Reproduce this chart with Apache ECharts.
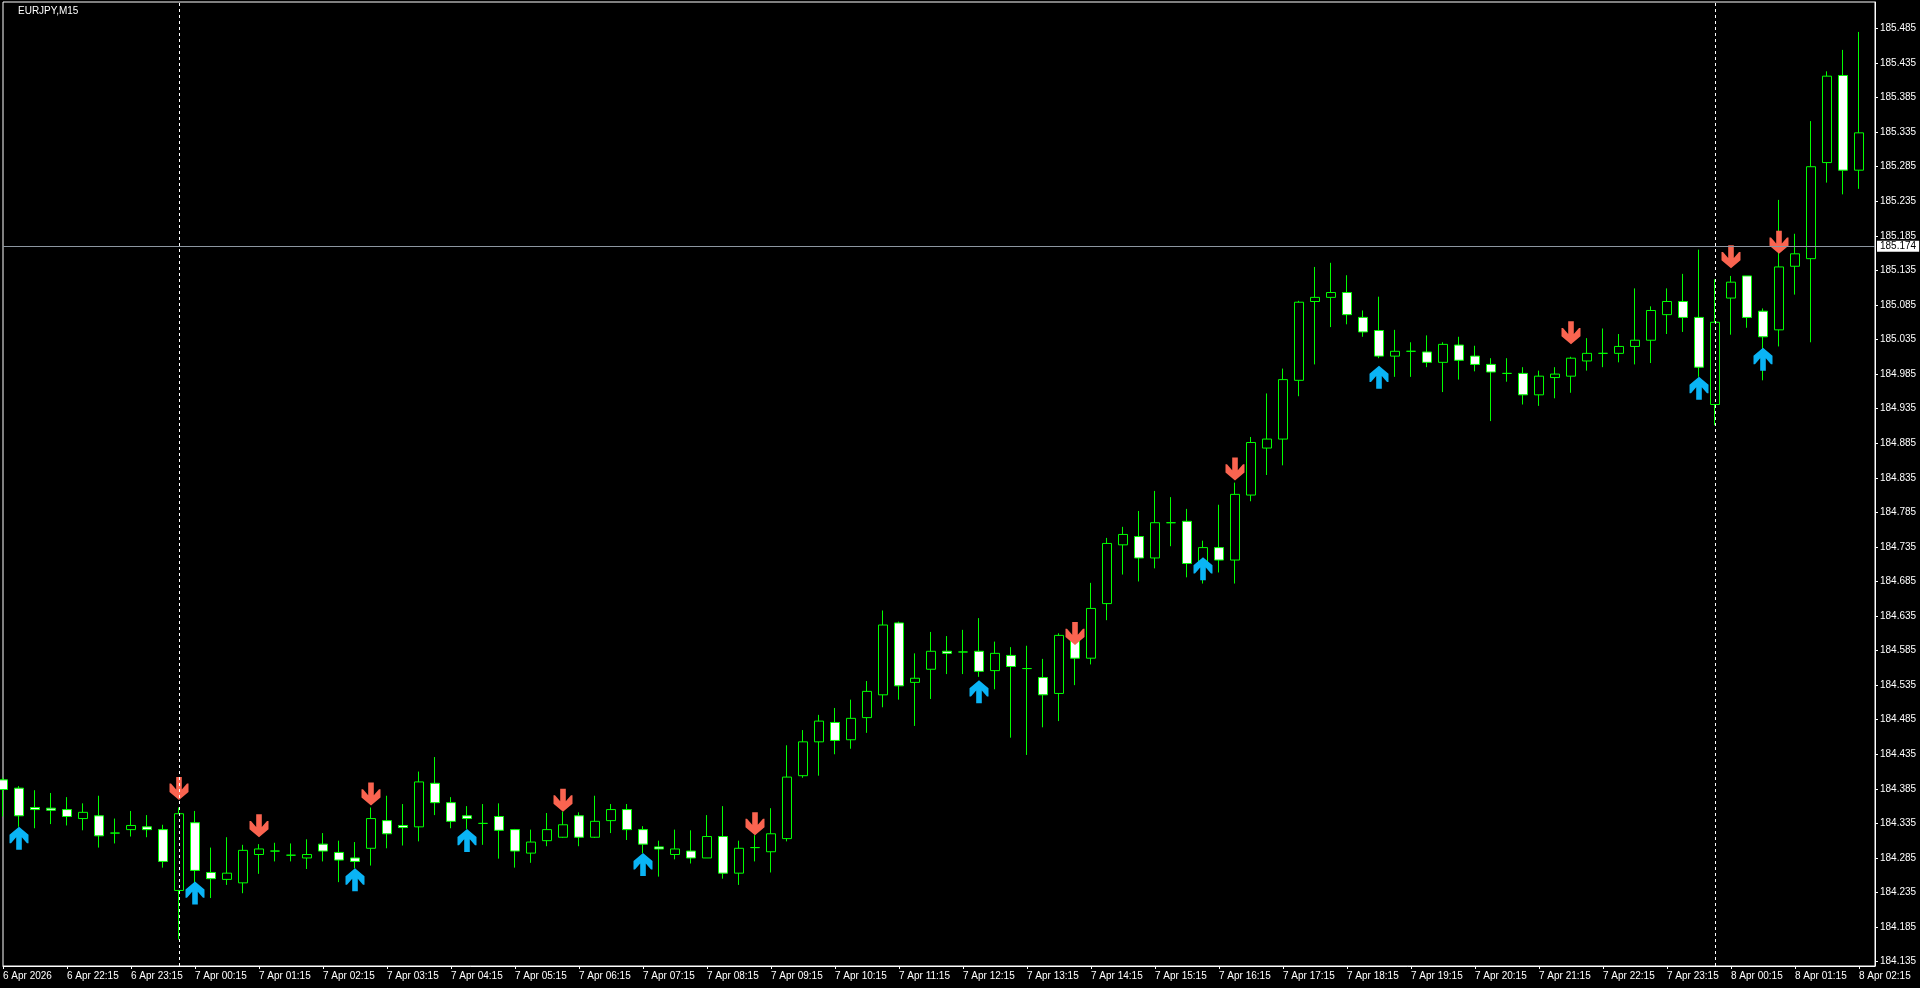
<!DOCTYPE html>
<html><head><meta charset="utf-8">
<script src="https://cdn.jsdelivr.net/npm/echarts@6/dist/echarts.min.js"></script>
<style>html,body{margin:0;padding:0;background:#000;overflow:hidden}#c{width:1920px;height:988px}</style>
</head><body><div id="c"></div>
<script>
const symbolName = 'EURJPY,M15';
const firstBarLabel = '6 Apr 2026';
const firstBarTimeUTC = Date.UTC(2026, 3, 6, 21, 15);
const barMinutes = 15;
const months = ['Jan','Feb','Mar','Apr','May','Jun','Jul','Aug','Sep','Oct','Nov','Dec'];

const barOpen = [
184.398,184.386,184.358,184.357,184.355,184.342,184.346,184.321,184.326,184.330,
184.326,184.238,184.336,184.264,184.254,184.249,184.290,184.295,184.289,184.285,
184.305,184.293,184.285,184.299,184.339,184.332,184.330,184.393,184.365,184.346,
184.335,184.345,184.326,184.292,184.310,184.315,184.346,184.315,184.339,184.355,
184.326,184.301,184.290,184.295,184.285,184.316,184.263,184.300,184.294,184.313,
184.404,184.453,184.481,184.456,184.488,184.521,184.625,184.539,184.558,184.584,
184.583,184.584,184.556,184.578,184.559,184.546,184.523,184.601,184.574,184.653,
184.738,184.750,184.719,184.770,184.772,184.711,184.734,184.716,184.810,184.878,
184.891,184.976,185.090,185.096,185.103,185.067,185.048,185.011,185.018,185.017,
185.002,185.027,185.011,184.999,184.986,184.986,184.955,184.980,184.982,185.004,
185.015,185.015,185.025,185.034,185.071,185.090,185.067,184.941,185.095,185.127,
185.076,185.049,185.141,185.152,185.291,185.417,185.280];
const barHigh = [
184.401,184.389,184.383,184.379,184.373,184.364,184.375,184.342,184.353,184.347,
184.333,184.358,184.353,184.300,184.315,184.304,184.305,184.307,184.306,184.312,
184.321,184.310,184.308,184.358,184.375,184.363,184.410,184.431,184.373,184.360,
184.363,184.364,184.327,184.326,184.350,184.352,184.351,184.375,184.363,184.363,
184.331,184.310,184.326,184.325,184.347,184.360,184.310,184.318,184.357,184.448,
184.470,184.492,184.502,184.514,184.541,184.643,184.627,184.581,184.612,184.606,
184.615,184.632,184.598,184.590,184.592,184.573,184.610,184.608,184.683,184.748,
184.764,184.787,184.816,184.807,184.790,184.744,184.796,184.828,184.894,184.957,
184.993,185.091,185.140,185.146,185.128,185.077,185.097,185.049,185.031,185.041,
185.031,185.039,185.026,185.008,185.008,184.995,184.990,184.995,185.010,185.037,
185.051,185.043,185.109,185.083,185.109,185.130,185.165,185.122,185.127,185.127,
185.080,185.237,185.188,185.351,185.423,185.454,185.480];
const barLow = [
184.345,184.330,184.328,184.334,184.332,184.325,184.300,184.306,184.316,184.315,
184.271,184.167,184.248,184.227,184.246,184.234,184.262,184.280,184.280,184.269,
184.280,184.250,184.270,184.274,184.299,184.303,184.309,184.347,184.328,184.327,
184.304,184.284,184.271,184.278,184.302,184.314,184.302,184.314,184.321,184.311,
184.292,184.258,184.283,184.277,184.285,184.255,184.246,184.280,184.264,184.309,
184.401,184.404,184.435,184.443,184.466,184.503,184.514,184.476,184.515,184.551,
184.551,184.547,184.529,184.459,184.434,184.474,184.483,184.535,184.565,184.629,
184.695,184.685,184.704,184.736,184.691,184.682,184.698,184.682,184.801,184.839,
184.853,184.953,184.999,185.053,185.057,185.039,185.008,184.981,184.981,184.995,
184.959,184.977,184.989,184.917,184.974,184.941,184.939,184.950,184.958,184.990,
184.995,185.002,184.999,185.001,185.043,185.046,184.981,184.911,185.042,185.052,
184.976,185.025,185.100,185.031,185.262,185.245,185.253];
const barClose = [
184.384,184.346,184.355,184.354,184.345,184.351,184.317,184.321,184.332,184.326,
184.280,184.349,184.267,184.255,184.263,184.296,184.298,184.295,184.289,184.290,
184.295,184.282,184.280,184.342,184.320,184.329,184.395,184.365,184.338,184.342,
184.335,184.325,184.295,184.308,184.326,184.333,184.315,184.338,184.355,184.326,
184.305,184.298,184.298,184.285,184.316,184.263,184.299,184.300,184.320,184.402,
184.453,184.483,184.455,184.487,184.526,184.622,184.534,184.545,184.584,184.581,
184.583,184.555,184.581,184.562,184.559,184.521,184.607,184.574,184.646,184.740,
184.753,184.719,184.770,184.770,184.711,184.734,184.716,184.811,184.886,184.891,
184.977,185.089,185.096,185.103,185.071,185.046,185.011,185.018,185.018,185.002,
185.028,185.005,184.999,184.988,184.986,184.955,184.982,184.985,185.008,185.015,
185.015,185.025,185.034,185.077,185.090,185.067,184.995,185.060,185.118,185.067,
185.039,185.140,185.159,185.285,185.416,185.280,185.334];

const upArrowBars = [1, 12, 22, 29, 40, 61, 75, 86, 106, 110];
const upArrowPrices = [184.330, 184.251, 184.270, 184.327, 184.292, 184.542, 184.720, 184.997, 184.981, 185.023];
const downArrowBars = [11, 16, 23, 35, 47, 67, 77, 98, 108, 111];
const downArrowPrices = [184.369, 184.315, 184.361, 184.352, 184.318, 184.593, 184.831, 185.028, 185.138, 185.159];

const priceTicks = [184.135,184.185,184.235,184.285,184.335,184.385,184.435,184.485,184.535,184.585,
184.635,184.685,184.735,184.785,184.835,184.885,184.935,184.985,185.035,185.085,
185.135,185.185,185.235,185.285,185.335,185.385,185.435,185.485];
const currentPrice = 185.174;
const priceMin = 184.1287, priceMax = 185.5233;

// ---- build categories (bar times) ----
const nBars = barOpen.length;
const categories = [];
for (let i = 0; i < nBars; i++) {
  const d = new Date(firstBarTimeUTC + i * barMinutes * 60000);
  const hh = String(d.getUTCHours()).padStart(2, '0');
  const mm = String(d.getUTCMinutes()).padStart(2, '0');
  categories.push(d.getUTCDate() + ' ' + months[d.getUTCMonth()] + ' ' + hh + ':' + mm);
}
categories.push(''); // empty slot right of last bar
const separators = categories.filter(c => c.endsWith(' 00:00'));

const candleData = barOpen.map((o, i) => [o, barClose[i], barLow[i], barHigh[i]]);
const upData = upArrowBars.map((b, i) => [b, upArrowPrices[i]]);
const downData = downArrowBars.map((b, i) => [b, downArrowPrices[i]]);

const GREEN = '#00ff00';
const FONT = 'Liberation Sans';
const FS = 10;
const showLabel = (idx) => idx % 4 === 0 && idx < nBars;

const upPath = 'path://M9.5,0 L19,8 L19,16.3 L17.5,16.3 L12.3,10.3 L12.3,23 L6.7,23 L6.7,10.3 L1.5,16.3 L0,16.3 L0,8 Z';
const downPath = 'path://M6.7,0 L12.3,0 L12.3,12.7 L17.5,6.7 L19,6.7 L19,15 L9.5,23 L0,15 L0,6.7 L1.5,6.7 L6.7,12.7 Z';

const chart = echarts.init(document.getElementById('c'), null, {renderer: 'canvas'});
chart.setOption({
  backgroundColor: '#000',
  animation: false,
  title: {
    text: symbolName, left: 18, top: 6, padding: 0,
    textStyle: {color: '#ffffff', fontSize: FS, fontWeight: 'normal', fontFamily: FONT}
  },
  grid: {
    left: 3, top: 2, width: 1872, height: 964,
    show: true, borderColor: '#ffffff', borderWidth: 1, backgroundColor: 'transparent'
  },
  xAxis: {
    type: 'category', data: categories, boundaryGap: false,
    axisLine: {show: true, lineStyle: {color: '#ffffff', width: 1}},
    axisTick: {show: true, interval: (idx) => showLabel(idx), length: 3, lineStyle: {color: '#ffffff'}},
    axisLabel: {
      show: true, interval: (idx) => showLabel(idx), align: 'left', margin: 5,
      color: '#ffffff', fontSize: FS, fontFamily: FONT,
      formatter: (v, idx) => idx === 0 ? firstBarLabel : v
    },
    splitLine: {show: false}
  },
  yAxis: {
    type: 'value', position: 'right', min: priceMin, max: priceMax, scale: true,
    axisLine: {show: true, lineStyle: {color: '#ffffff', width: 1}},
    axisTick: {show: true, customValues: priceTicks, length: 3, lineStyle: {color: '#ffffff'}},
    axisLabel: {
      show: true, customValues: priceTicks, margin: 5, color: '#ffffff', fontSize: FS, fontFamily: FONT,
      formatter: (v) => Number(v).toFixed(3)
    },
    splitLine: {show: false}
  },
  series: [
    {
      type: 'line', data: [], z: 1, silent: true,
      markLine: {
        silent: true, symbol: ['none', 'none'], animation: false,
        data: [
          {xAxis: separators[0], lineStyle: {color: '#ffffff', type: [3, 3], width: 1}, label: {show: false}},
          {xAxis: separators[1], lineStyle: {color: '#ffffff', type: [3, 3], width: 1}, label: {show: false}},
          {yAxis: currentPrice, lineStyle: {color: '#8c96a0', type: 'solid', width: 1},
           label: {show: true, position: 'end', distance: 2, formatter: currentPrice.toFixed(3),
                   color: '#000000', backgroundColor: '#ffffff', fontSize: FS, fontFamily: FONT,
                   padding: [1, 3, 0, 3]}}
        ]
      }
    },
    {
      type: 'candlestick', data: candleData, barWidth: 9, z: 2,
      itemStyle: {
        color: '#000000', color0: '#ffffff',
        borderColor: GREEN, borderColor0: GREEN, borderColorDoji: GREEN, borderWidth: 1
      }
    },
    {
      type: 'scatter', data: upData, z: 3, symbol: upPath, symbolSize: [19, 23],
      symbolOffset: [0, 11.5], itemStyle: {color: '#0ab4f5', opacity: 1}
    },
    {
      type: 'scatter', data: downData, z: 3, symbol: downPath, symbolSize: [19, 23],
      symbolOffset: [0, -11.5], itemStyle: {color: '#fa6450', opacity: 1}
    }
  ]
});
</script>
</body></html>
